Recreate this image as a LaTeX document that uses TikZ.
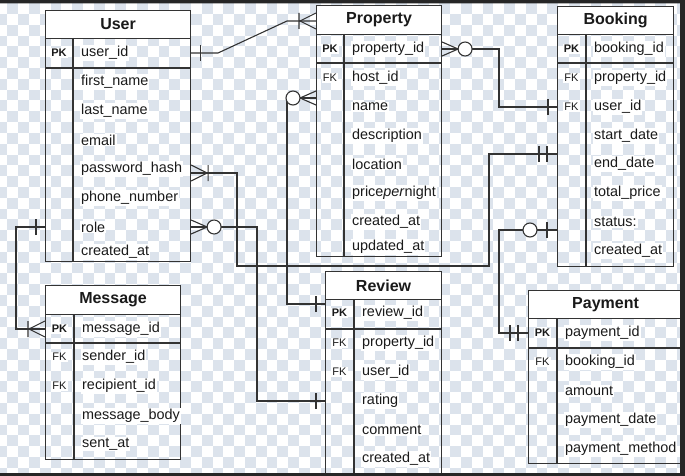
\documentclass[tikz,border=0pt]{standalone}
\usepackage{fontspec}
\setmainfont{Liberation Sans}
\usepackage{xcolor}
\definecolor{cLine}{HTML}{333333}
\definecolor{cText}{HTML}{1A1A1A}
\definecolor{cCheck}{HTML}{DCE3EC}
\definecolor{cFrame}{HTML}{262626}

\tikzset{
  rel/.style={draw=cLine, line width=1.1pt},
  pics/onebar/.style={code={\draw[rel] (9,-8) -- (9,8);}},
  pics/twobar/.style={code={\draw[rel] (10,-8) -- (10,8) (18,-8) -- (18,8);}},
  pics/onemany/.style={code={\draw[rel] (0,-8) -- (16,0) -- (0,8) (17,-8) -- (17,8);}},
  pics/zeromany/.style={code={\draw[rel] (0,-7) -- (16,0) -- (0,7); \draw[rel,fill=white] (23,0) circle[radius=7pt];}},
  pics/zeroone/.style={code={\draw[rel] (10,-8) -- (10,8); \draw[rel,fill=white] (27,0) circle[radius=7pt];}},
}

\begin{document}
\begin{tikzpicture}[
  x=1pt, y=-1pt,
  every node/.style={text=cText},
  tbox/.style={draw=cLine, line width=1.1pt, anchor=north west, inner sep=0pt},
  ttl/.style={draw=cLine, line width=1.1pt, fill=white, anchor=north, inner sep=0pt, font=\bfseries\fontsize{16}{19}\selectfont},
  tline/.style={draw=cLine, line width=1.1pt},
  key/.style={fill=white, inner sep=1pt, font=\fontsize{11}{13}\selectfont},
  fld/.style={fill=white, anchor=west, inner sep=1pt, font=\fontsize{14.4}{17}\selectfont},
]

\useasboundingbox (0,0) rectangle (685,476);

% checkerboard backdrop
\begin{scope}
  \clip (0,0) rectangle (685,476);
  \foreach \j in {0,...,44}
    \foreach \k in {0,...,32}
      \fill[cCheck] ({(2*\k+mod(\j+1,2))*10.8-3.5},{\j*10.8+3.3}) rectangle ++(10.8,10.8);
\end{scope}

% User
\node[tbox, minimum width=145pt, minimum height=251pt] (user) at (45,10) {};
\node[ttl, minimum width=145pt, minimum height=28pt] (user-t) at (user.north) {User};
\draw[tline] (45,68) -- (190,68) (73,38) -- (73,261);
\node[key, font=\bfseries\fontsize{11}{13}\selectfont] (user-k) at (59,53) {PK};
\node[fld] (uid) at (80,53) {user\_id};
\foreach \y/\t [count=\i] in {82/first\_name, 111/last\_name, 140/email, 169/password\_hash, 198/phone\_number, 227/role, 252/created\_at}
  \node[fld] (user-f\i) at (80,\y) {\t};

% Property
\node[tbox, minimum width=125pt, minimum height=251pt] (prop) at (316,5) {};
\node[ttl, minimum width=125pt, minimum height=29pt] (prop-t) at (prop.north) {Property};
\draw[tline] (316,63) -- (441,63) (344,34) -- (344,256);
\node[key, font=\bfseries\fontsize{11}{13}\selectfont] (prop-k) at (330,49) {PK};
\node[fld] (pid) at (351,49) {property\_id};
\node[key] (prop-fk) at (330,78) {FK};
\foreach \y/\t [count=\i] in {78/host\_id, 107/name, 136/description, 164/location, 193/price\emph{per}night, 222/created\_at, 247/updated\_at}
  \node[fld] (prop-f\i) at (351,\y) {\t};

% Booking
\node[tbox, minimum width=116pt, minimum height=260pt] (book) at (557,6) {};
\node[ttl, minimum width=116pt, minimum height=28pt] (book-t) at (book.north) {Booking};
\draw[tline] (557,63) -- (673,63) (586,34) -- (586,266);
\node[key, font=\bfseries\fontsize{11}{13}\selectfont] (book-k) at (571.5,49) {PK};
\node[fld] (bid) at (593,49) {booking\_id};
\node[key] (book-fk1) at (571.5,78) {FK};
\node[key] (book-fk2) at (571.5,107) {FK};
\foreach \y/\t [count=\i] in {78/property\_id, 107/user\_id, 136/start\_date, 164/end\_date, 193/total\_price, 222/status:, 251/created\_at}
  \node[fld] (book-f\i) at (593,\y) {\t};

% Message
\node[tbox, minimum width=135pt, minimum height=174pt] (msg) at (45,285) {};
\node[ttl, minimum width=135pt, minimum height=29pt] (msg-t) at (msg.north) {Message};
\draw[tline] (45,343) -- (180,343) (74,314) -- (74,459);
\node[key, font=\bfseries\fontsize{11}{13}\selectfont] (msg-k) at (59.5,329) {PK};
\node[fld] (mid) at (81,329) {message\_id};
\node[key] (msg-fk1) at (59.5,357) {FK};
\node[key] (msg-fk2) at (59.5,386) {FK};
\foreach \y/\t [count=\i] in {357/sender\_id, 386/recipient\_id, 416/message\_body, 444/sent\_at}
  \node[fld] (msg-f\i) at (81,\y) {\t};

% Review
\node[tbox, minimum width=116pt, minimum height=202pt] (rev) at (325,271) {};
\node[ttl, minimum width=116pt, minimum height=28pt] (rev-t) at (rev.north) {Review};
\draw[tline] (325,329) -- (441,329) (354,299) -- (354,473);
\node[key, font=\bfseries\fontsize{11}{13}\selectfont] (rev-k) at (339.5,313) {PK};
\node[fld] (rid) at (361,313) {review\_id};
\node[key] (rev-fk1) at (339.5,343) {FK};
\node[key] (rev-fk2) at (339.5,372) {FK};
\foreach \y/\t [count=\i] in {343/property\_id, 372/user\_id, 401/rating, 430/comment, 459/created\_at}
  \node[fld] (rev-f\i) at (361,\y) {\t};

% Payment
\node[tbox, minimum width=154pt, minimum height=173pt] (pay) at (528,290) {};
\node[ttl, minimum width=154pt, minimum height=28pt] (pay-t) at (pay.north) {Payment};
\draw[tline] (528,348) -- (682,348) (557,318) -- (557,463);
\node[key, font=\bfseries\fontsize{11}{13}\selectfont] (pay-k) at (542.5,333) {PK};
\node[fld] (payid) at (564,333) {payment\_id};
\node[key] (pay-fk) at (542.5,362) {FK};
\foreach \y/\t [count=\i] in {362/booking\_id, 391/amount, 420/payment\_date, 449/payment\_method}
  \node[fld] (pay-f\i) at (564,\y) {\t};

% relations
\draw[rel] (user.east|-uid) -- (218,53) -- (287,21) -- (prop.west|-0,21);
\draw[rel] (prop.east|-pid) -| (499,107) -- (book.west|-0,107);
\draw[rel] (user.east|-0,173) -| (237,266) -| (489,154) -- (book.west|-0,154);
\draw[rel] (user.east|-0,227) -| (257,401) -- (rev.west|-0,401);
\draw[rel] (prop.west|-0,98) -| (287,304) -- (rev.west|-0,304);
\draw[rel] (user.west|-0,227) -| (16,329) -- (msg.west|-mid);
\draw[rel] (book.west|-0,230) -| (499,333) -- (pay.west|-payid);

% end marks
\pic at (user.east|-uid) {onebar};
\pic[rotate=180] at (prop.west|-0,21) {onemany};
\pic at (prop.east|-pid) {zeromany};
\pic[rotate=180] at (book.west|-0,107) {onebar};
\pic at (user.east|-0,173) {onemany};
\pic[rotate=180] at (book.west|-0,154) {twobar};
\pic at (user.east|-0,227) {zeromany};
\pic[rotate=180] at (rev.west|-0,401) {onebar};
\pic[rotate=180] at (prop.west|-0,98) {zeromany};
\pic[rotate=180] at (rev.west|-0,304) {onebar};
\pic[rotate=180] at (user.west|-0,227) {onebar};
\pic[rotate=180] at (msg.west|-mid) {onemany};
\pic[rotate=180] at (book.west|-0,230) {zeroone};
\pic[rotate=180] at (pay.west|-payid) {twobar};

% screen frame
\fill[cFrame] (0,0) rectangle (685,3.3) (680,0) rectangle (685,476) (0,473) rectangle (685,476);

\end{tikzpicture}
\end{document}
